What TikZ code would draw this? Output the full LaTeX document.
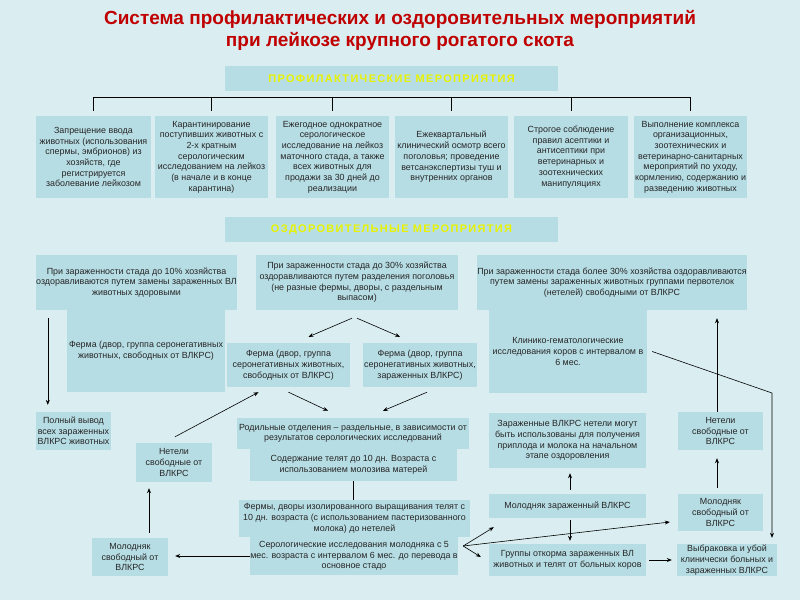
\documentclass[tikz,border=0pt]{standalone}
\usepackage{fontspec}
\setmainfont{Liberation Sans}
\newfontfamily\hdrfont[LetterSpace=12]{Liberation Sans}
\usetikzlibrary{calc,arrows.meta}
\definecolor{bgc}{HTML}{DAEEF1}
\definecolor{bxc}{HTML}{B7DDE4}
\definecolor{ttlc}{HTML}{C00000}
\definecolor{hdrc}{HTML}{E8F200}
\begin{document}
\begin{tikzpicture}[x=1pt,y=-1pt,
  box/.style={fill=bxc, inner sep=0pt, align=center, font=\fontsize{8.9}{10.7}\selectfont, text=black!85},
  hdr/.style={fill=bxc, inner sep=0pt, font=\hdrfont\bfseries\fontsize{11}{13}\selectfont, text=hdrc, minimum width=333pt, minimum height=25pt},
  arr/.style={-{Stealth[length=5pt,width=4pt]}, line width=0.6pt},
  ln/.style={line width=0.6pt}]
\fill[bgc] (0,0) rectangle (800,600);
\useasboundingbox (0,0) rectangle (800,600);

\node[font=\bfseries\fontsize{19}{22}\selectfont, text=ttlc, align=center] (title) at (400,30)
  {Система профилактических и оздоровительных мероприятий\\при лейкозе крупного рогатого скота};

\node[hdr] (h1) at (391.5,78.5) {ПРОФИЛАКТИЧЕСКИЕ МЕРОПРИЯТИЯ};
\node[hdr] (h2) at (391.5,229.5) {ОЗДОРОВИТЕЛЬНЫЕ МЕРОПРИЯТИЯ};

% top row
\node[box, minimum width=115pt, minimum height=82pt] (p1) at (93.5,157)
  {Запрещение ввода\\животных (использования\\спермы, эмбрионов) из\\хозяйств, где\\регистрируется\\заболевание лейкозом};
\node[box, minimum width=113pt, minimum height=82pt] (p2) at (211.5,157)
  {Карантинирование\\поступивших животных с\\2-х кратным\\серологическим\\исследованием на лейкоз\\(в начале и в конце\\карантина)};
\node[box, minimum width=113pt, minimum height=82pt] (p3) at (332.5,157)
  {Ежегодное однократное\\серологическое\\исследование на лейкоз\\маточного стада, а также\\всех животных для\\продажи за 30 дней до\\реализации};
\node[box, minimum width=113pt, minimum height=82pt] (p4) at (451.5,157)
  {Ежеквартальный\\клинический осмотр всего\\поголовья; проведение\\ветсанэкспертизы туш и\\внутренних органов};
\node[box, minimum width=114pt, minimum height=82pt] (p5) at (571,157)
  {Строгое соблюдение\\правил асептики и\\антисептики при\\ветеринарных и\\зоотехнических\\манипуляциях};
\node[box, minimum width=113pt, minimum height=82pt] (p6) at (690.5,157)
  {Выполнение комплекса\\организационных,\\зоотехнических и\\ветеринарно-санитарных\\мероприятий по уходу,\\кормлению, содержанию и\\разведению животных};

\draw[ln] ([yshift=19pt]p1.north) -- ([yshift=19pt]p6.north);
\foreach \n in {p1,p2,p3,p4,p5,p6}
  \draw[ln] ([yshift=5pt]\n.north) -- ([yshift=19pt]\n.north);

% second section
\node[box, minimum width=201pt, minimum height=55pt] (A) at (136.5,282.5)
  {При зараженности стада до 10\% хозяйства\\оздоравливаются путем замены зараженных ВЛ\\животных здоровыми};
\node[box, minimum width=158pt, minimum height=82pt] (A2) at (146,351)
  {Ферма (двор, группа серонегативных\\животных, свободных от ВЛКРС)};
\node[box, minimum width=202pt, minimum height=55pt] (B) at (357,282.5)
  {При зараженности стада до 30\% хозяйства\\оздоравливаются путем разделения поголовья\\(не разные фермы, дворы, с раздельным\\выпасом)};
\node[box, minimum width=270pt, minimum height=55pt] (C) at (612,282.5)
  {При зараженности стада более 30\% хозяйства оздоравливаются\\путем замены зараженных животных группами первотелок\\(нетелей) свободными от ВЛКРС};
\node[box, minimum width=158pt, minimum height=83pt] (C2) at (568,351.5)
  {Клинико-гематологические\\исследования коров с интервалом в\\6 мес.};
\node[box, minimum width=123pt, minimum height=44pt] (F1) at (288.5,365)
  {Ферма (двор, группа\\серонегативных животных,\\свободных от ВЛКРС)};
\node[box, minimum width=114pt, minimum height=44pt] (F2) at (420,365)
  {Ферма (двор, группа\\серонегативных животных,\\зараженных ВЛКРС)};

\node[box, minimum width=75pt, minimum height=38pt] (pv) at (73.5,431)
  {Полный вывод\\всех зараженных\\ВЛКРС животных};
\node[box, minimum width=76pt, minimum height=39pt] (nl) at (174,462.5)
  {Нетели\\свободные от\\ВЛКРС};
\node[box, minimum width=76pt, minimum height=38pt] (ml) at (130,557)
  {Молодняк\\свободный от\\ВЛКРС};
\node[box, minimum width=232pt, minimum height=31pt] (rod) at (353,433.5)
  {Родильные отделения – раздельные, в зависимости от\\результатов серологических исследований};
\node[box, minimum width=207pt, minimum height=32pt] (sod) at (353.5,465)
  {Содержание телят до 10 дн. Возраста с\\использованием молозива матерей};
\node[box, minimum width=231pt, minimum height=37pt] (fd) at (354.5,518.5)
  {Фермы, дворы изолированного выращивания телят с\\10 дн. возраста (с использованием пастеризованного\\молока) до нетелей};
\node[box, minimum width=208pt, minimum height=38pt] (ser) at (354,556)
  {Серологические исследования молодняка с 5\\мес. возраста с интервалом 6 мес. до перевода в\\основное стадо};
\node[box, minimum width=157pt, minimum height=55pt] (zn) at (567.5,440.5)
  {Зараженные ВЛКРС нетели могут\\быть использованы для получения\\приплода и молока на начальном\\этапе оздоровления};
\node[box, minimum width=157pt, minimum height=24pt] (mz) at (567.5,506)
  {Молодняк зараженный ВЛКРС};
\node[box, minimum width=157pt, minimum height=32pt] (gr) at (567.5,560)
  {Группы откорма зараженных ВЛ\\животных и телят от больных коров};
\node[box, minimum width=85pt, minimum height=38pt] (nr) at (720.5,431)
  {Нетели\\свободные от\\ВЛКРС};
\node[box, minimum width=85pt, minimum height=37pt] (mr) at (720.5,512.5)
  {Молодняк\\свободный от\\ВЛКРС};
\node[box, minimum width=100pt, minimum height=32pt] (vb) at (727,560)
  {Выбраковка и убой\\клинически больных и\\зараженных ВЛКРС};

% connectors
\draw[arr] ($(A.south west)+(12,8)$) -- ($(pv.north west)+(12,-7)$);
\draw[arr] ($(B.south)+(-5,8)$) -- ($(F1.north)+(20,-6)$);
\draw[arr] ($(B.south)+(0,8)$) -- ($(F2.north)+(-20,-6)$);
\draw[arr] ($(F1.south)+(0,5)$) -- ($(rod.north)+(-25,-7)$);
\draw[arr] ($(F2.south)+(7,5)$) -- ($(rod.north)+(30,-7)$);
\draw[arr] ($(nl.north)+(1,-6)$) -- ($(F1.south)+(-30,5)$);
\draw[ln] (sod.south) -- (sod.south |- fd.north);
\draw[arr] (ser.west) -- ([xshift=7pt]ser.west -| ml.east);
\draw[arr] ($(ml.north)+(19,-5)$) -- ($(ml.north |- nl.south)+(19,6)$);
\coordinate (fan) at ($(ser.east)+(5,-10)$);
\draw[arr] (fan) -- ($(mz.south west)+(5,9)$);
\draw[arr] (fan) -- ($(mr.west)+(-8,9.5)$);
\draw[arr] (fan) -- ($(gr.west)+(-8,-3)$);
\draw[arr] ($(mz.north)+(2.5,-4)$) -- ($(zn.south)+(2.5,5)$);
\draw[arr] ($(mz.south)+(2.5,2)$) -- ($(gr.north)+(2.5,-3)$);
\draw[arr] ($(gr.east)+(3,0)$) -- ($(vb.west)+(-5,0)$);
\draw[arr] ($(mr.north)+(-3.5,-6)$) -- ($(nr.south)+(-3.5,8)$);
\draw[arr] ($(nr.north)+(-3.5,0)$) -- ($(nr.north |- C.south)+(-3.5,8)$);
\coordinate (bend) at (772,393);
\draw[arr] ($(C2.east)+(5,0)$) -- (bend) -- ([yshift=6pt]bend |- vb.north);
\end{tikzpicture}
\end{document}
